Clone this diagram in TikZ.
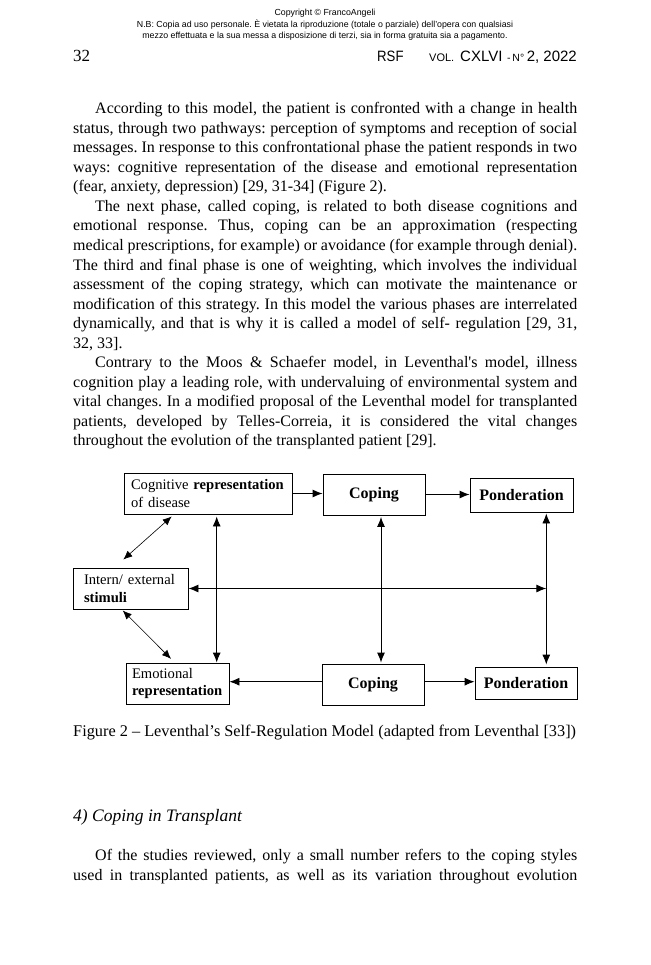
\documentclass[tikz,border=0pt]{standalone}
\usepackage{fontspec}
\usepackage{graphicx}
\setmainfont{Liberation Serif}
\newfontfamily\arialf{Liberation Sans}
\newfontfamily\rawserif[Ligatures=TeXOff]{Liberation Serif}
\usetikzlibrary{arrows.meta}
\newcommand{\jl}[2]{\makebox[#1pt][s]{#2}}
\frenchspacing
\begin{document}
\begin{tikzpicture}[x=1pt,y=-1pt,
  txt/.style={anchor=base west,inner sep=0pt,font=\fontsize{16}{19.5}\selectfont},
  hdr/.style={anchor=base,inner sep=0pt,font=\arialf\fontsize{8.8}{10}\selectfont},
  run/.style={anchor=base west,inner sep=0pt,font=\arialf\fontsize{15}{18}\selectfont},
  runs/.style={anchor=base west,inner sep=0pt,font=\arialf\fontsize{11}{13}\selectfont},
  box/.style={draw,line width=0.9pt,inner sep=0pt,font=\fontsize{14.6}{17.7}\selectfont},
  bbox/.style={box,font=\bfseries\fontsize{16}{18}\selectfont},
  arr/.style={line width=0.9pt,-{Latex[length=10pt,width=8pt]}},
  darr/.style={line width=0.9pt,{Latex[length=10pt,width=8pt]}-{Latex[length=10pt,width=8pt]}},
  thin darr/.style={line width=0.6pt,{Latex[length=9pt,width=7.5pt]}-{Latex[length=9pt,width=7.5pt]}}]
\useasboundingbox[fill=white] (0,0) rectangle (650,965);
% header
\node[hdr] (h1) at (325,16) {Copyright © FrancoAngeli};
\node[hdr] (h2) at (325,27.5) {N.B: Copia ad uso personale. È vietata la riproduzione (totale o parziale) dell’opera con qualsiasi};
\node[hdr] (h3) at (325,39) {mezzo effettuata e la sua messa a disposizione di terzi, sia in forma gratuita sia a pagamento.};
\node[anchor=base west,inner sep=0pt,font=\fontsize{17}{20}\selectfont] (pg) at (73,62) {32};
\node[run] (rsf) at (377,62) {\scalebox{0.88}[1]{RSF}};
\node[runs] (vol) at (429,62) {VOL.};
\node[run] (cx) at (460,62) {CXLVI};
\node[runs,font=\arialf\fontsize{10.5}{13}\selectfont] (no) at (507,62) {-\,N°};
\node[run,anchor=base east] (yr) at (577,62) {2, 2022};
% body text
\node[txt] (l1) at (95,114) {\jl{482}{According to this model, the patient is confronted with a change in health}};
\node[txt] (l2) at (73,133.5) {\jl{504}{status, through two pathways: perception of symptoms and reception of social}};
\node[txt] (l3) at (73,153) {\jl{504}{messages. In response to this confrontational phase the patient responds in two}};
\node[txt] (l4) at (73,172.5) {\jl{504}{ways: cognitive representation of the disease and emotional representation}};
\node[txt] (l5) at (73,192) {(fear, anxiety, depression) [29, 31-34] (Figure 2).};
\node[txt] (l6) at (95,211.5) {\jl{482}{The next phase, called coping, is related to both disease cognitions and}};
\node[txt] (l7) at (73,231) {\jl{504}{emotional response. Thus, coping can be an approximation (respecting}};
\node[txt] (l8) at (73,250.5) {\jl{504}{medical prescriptions, for example) or avoidance (for example through denial).}};
\node[txt] (l9) at (73,270) {\jl{504}{The third and final phase is one of weighting, which involves the individual}};
\node[txt] (l10) at (73,289.5) {\jl{504}{assessment of the coping strategy, which can motivate the maintenance or}};
\node[txt] (l11) at (73,309) {\jl{504}{modification of this strategy. In this model the various phases are interrelated}};
\node[txt] (l12) at (73,328.5) {\jl{504}{dynamically, and that is why it is called a model of self- regulation [29, 31,}};
\node[txt] (l13) at (73,348) {32, 33].};
\node[txt] (l14) at (95,367.5) {\jl{482}{Contrary to the Moos \& Schaefer model, in Leventhal{\rawserif '}s model, illness}};
\node[txt] (l15) at (73,387) {\jl{504}{cognition play a leading role, with undervaluing of environmental system and}};
\node[txt] (l16) at (73,406.5) {\jl{504}{vital changes. In a modified proposal of the Leventhal model for transplanted}};
\node[txt] (l17) at (73,426) {\jl{504}{patients, developed by Telles-Correia, it is considered the vital changes}};
\node[txt] (l18) at (73,445.5) {throughout the evolution of the transplanted patient [29].};
% diagram
\node[box,minimum width=168pt,minimum height=41pt,text width=154pt,align=left] (cog) at (208,493.5) {Cognitive \textbf{representation}\\of disease};
\node[bbox,minimum width=102pt,minimum height=41pt] (cop1) at (374,494.5) {Coping};
\node[bbox,minimum width=103pt,minimum height=34pt] (pon1) at (521.5,495) {Ponderation};
\node[box,minimum width=115pt,minimum height=41pt,text width=93pt,align=left] (int) at (130.5,588.5) {Intern/ external\\\textbf{stimuli}};
\node[box,minimum width=103pt,minimum height=41pt,text width=91pt,align=left] (emo) at (177.5,683.5) {Emotional\\\textbf{representation}};
\node[bbox,minimum width=102pt,minimum height=41pt] (cop2) at (373,684.5) {Coping};
\node[bbox,minimum width=102pt,minimum height=32pt] (pon2) at (526,683) {Ponderation};
\coordinate (vr) at ([xshift=24.8pt]pon1.south);
\draw[arr] (cog.east) -- (cog.east -| cop1.west);
\draw[arr] (cop1.east) -- (cop1.east -| pon1.west);
\draw[darr,shorten <=2pt] ([xshift=8.7pt]cog.south) -- ([xshift=8.7pt]cog.south |- emo.north);
\draw[darr,shorten <=1.5pt,shorten >=1pt] ([xshift=7pt]cop1.south) -- ([xshift=7pt]cop1.south |- cop2.north);
\draw[darr,shorten <=1pt,shorten >=2pt] (vr) -- (vr |- pon2.north);
\draw[darr] (int.east) -- (int.east -| vr);
\draw[thin darr] ([xshift=-7.2pt,yshift=8pt]int.north) -- ([xshift=-36.3pt,yshift=-2pt]cog.south);
\draw[thin darr] ([xshift=-7.8pt,yshift=-1pt]int.south) -- ([xshift=-6.5pt,yshift=3.7pt]emo.north);
\draw[arr] ([yshift=2.8pt]cop2.west) -- ([yshift=2.8pt]cop2.west -| emo.east);
\draw[arr] ([yshift=2.8pt]cop2.east) -- ([yshift=2.8pt]cop2.east -| pon2.west);
% caption and following text
\node[txt,font=\fontsize{16.3}{19.5}\selectfont] (cap) at (73,736) {Figure 2 – Leventhal’s Self-Regulation Model (adapted from Leventhal [33])};
\node[txt,font=\itshape\fontsize{17.5}{20}\selectfont] (sec) at (73,821) {4) Coping in Transplant};
\node[txt] (p1) at (95,860) {\jl{482}{Of the studies reviewed, only a small number refers to the coping styles}};
\node[txt] (p2) at (73,880) {\jl{504}{used in transplanted patients, as well as its variation throughout evolution}};
\end{tikzpicture}
\end{document}
